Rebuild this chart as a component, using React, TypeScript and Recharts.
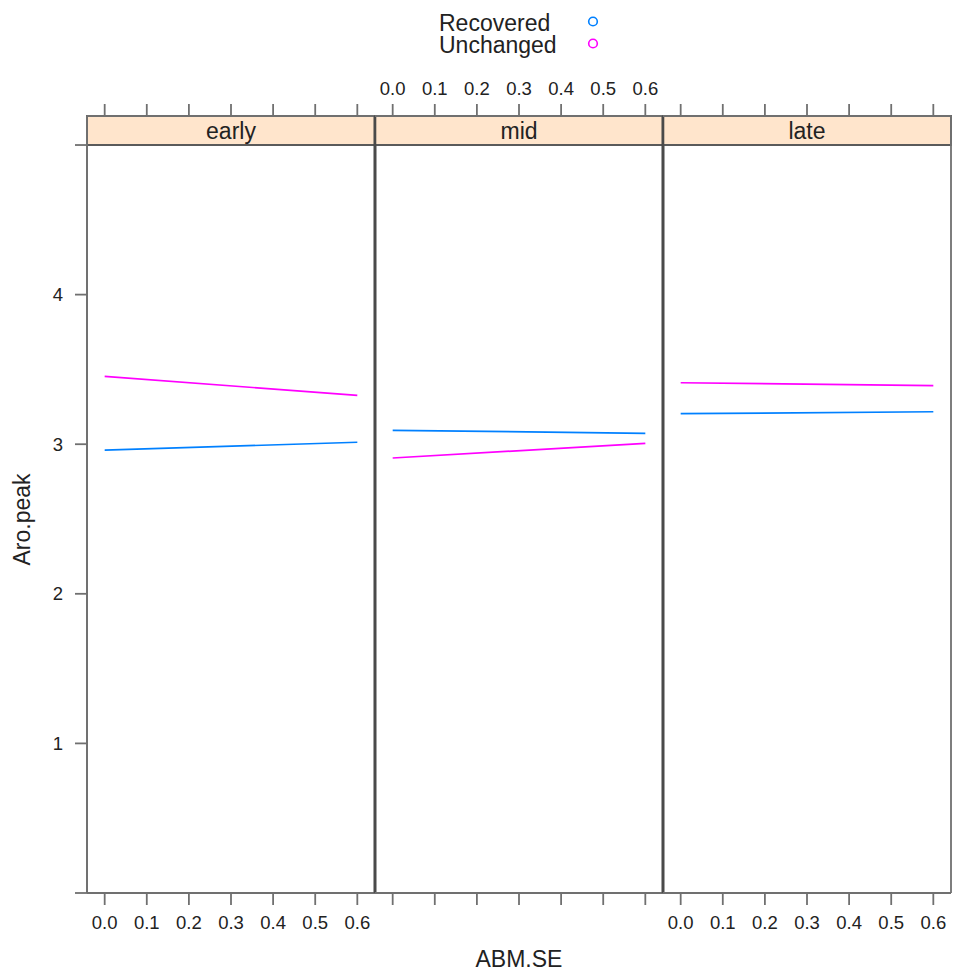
import React from 'react';
import {
  LineChart,
  Line,
  XAxis,
  YAxis,
  ReferenceArea,
  ReferenceLine,
} from 'recharts';

// ABM.SE values at the two ends of each fitted line
const abmSE = [0.0, 0.6];
// Panel (strip) names
const periods = ['early', 'mid', 'late'];
// Fitted Aro.peak per period, at abmSE[0] and abmSE[1]
const recovered = [
  [2.96, 3.013],
  [3.093, 3.073],
  [3.204, 3.217],
];
const unchanged = [
  [3.453, 3.327],
  [2.908, 3.006],
  [3.411, 3.391],
];
// Axis ticks
const xTicks = [0, 0.1, 0.2, 0.3, 0.4, 0.5, 0.6];
const yTicks = [0, 1, 2, 3, 4, 5];
const yLabelled = [1, 2, 3, 4];
const groups = ['Recovered', 'Unchanged'];
const groupColors = ['#0080ff', '#ff00ff'];

const W = 954;
const H = 973;
const FONT = '"Liberation Sans", Arial, Helvetica, sans-serif';
const TEXT = '#222';
const FRAME = '#707070';
const X_DOMAIN: [number, number] = [-0.042, 0.642];
// Top of the y domain leaves room for the strip between 5.0 and the top axis
const Y_TOP = 5.194;
const PANEL_EDGES = [87, 375, 663, 951];
const PLOT_TOP = 116;
const PLOT_BOTTOM = 893;
const TITLE_SIZE = 23;

const fmtX = (v: number) => v.toFixed(1);
const blank = () => '';

type PanelProps = {
  index: number;
  showY: boolean;
  bottomLabels: boolean;
  topLabels: boolean;
};

function Panel({ index, showY, bottomLabels, topLabels }: PanelProps) {
  const left = PANEL_EDGES[index];
  const right = PANEL_EDGES[index + 1];
  const data = abmSE.map((x, i) => ({
    x,
    rec: recovered[index][i],
    unc: unchanged[index][i],
  }));
  const yAxisWidth = 60;
  const xAxisHeight = 30;
  const margin = {
    left: showY ? left - yAxisWidth : left,
    right: W - right,
    top: PLOT_TOP - xAxisHeight,
    bottom: H - PLOT_BOTTOM - xAxisHeight,
  };
  const tickStyle = { fontSize: 18.5, fill: TEXT, fontFamily: FONT };
  const axisLine = { stroke: FRAME, strokeWidth: 1.8 };
  return (
    <div style={{ position: 'absolute', left: 0, top: 0 }}>
      <LineChart width={W} height={H} data={data} margin={margin}>
        <XAxis
          xAxisId="bottom"
          dataKey="x"
          type="number"
          orientation="bottom"
          domain={X_DOMAIN}
          allowDataOverflow
          ticks={xTicks}
          interval={0}
          height={xAxisHeight}
          tickSize={12}
          tickMargin={11}
          tickFormatter={bottomLabels ? fmtX : blank}
          tick={tickStyle}
          axisLine={axisLine}
          tickLine={axisLine}
        />
        <XAxis
          xAxisId="top"
          dataKey="x"
          type="number"
          orientation="top"
          domain={X_DOMAIN}
          allowDataOverflow
          ticks={xTicks}
          interval={0}
          height={xAxisHeight}
          tickSize={12}
          tickMargin={9}
          tickFormatter={topLabels ? fmtX : blank}
          tick={tickStyle}
          axisLine={axisLine}
          tickLine={axisLine}
        />
        <YAxis
          yAxisId="y"
          type="number"
          domain={[0, Y_TOP]}
          allowDataOverflow
          ticks={yTicks}
          interval={0}
          width={yAxisWidth}
          hide={!showY}
          tickSize={12}
          tickMargin={12}
          tickFormatter={(v: number) => (yLabelled.includes(v) ? String(v) : '')}
          tick={tickStyle}
          axisLine={axisLine}
          tickLine={axisLine}
        />
        <ReferenceArea
          xAxisId="bottom"
          yAxisId="y"
          x1={X_DOMAIN[0]}
          x2={X_DOMAIN[1]}
          y1={5}
          y2={Y_TOP}
          fill="#ffe5cc"
          fillOpacity={1}
          stroke="#5a5a5a"
          strokeWidth={1.8}
          ifOverflow="visible"
          label={{
            value: periods[index],
            position: 'center',
            fill: TEXT,
            fontSize: TITLE_SIZE,
            fontFamily: FONT,
          }}
        />
        <ReferenceLine
          xAxisId="bottom"
          yAxisId="y"
          x={X_DOMAIN[0]}
          stroke={index === 0 ? FRAME : '#4a4a4a'}
          strokeWidth={index === 0 ? 1.8 : 2.6}
          ifOverflow="visible"
        />
        <ReferenceLine
          xAxisId="bottom"
          yAxisId="y"
          x={X_DOMAIN[1]}
          stroke={index === 2 ? FRAME : '#4a4a4a'}
          strokeWidth={index === 2 ? 1.8 : 2.6}
          ifOverflow="visible"
        />
        <Line
          xAxisId="bottom"
          yAxisId="y"
          dataKey="rec"
          stroke={groupColors[0]}
          strokeWidth={1.7}
          dot={false}
          isAnimationActive={false}
        />
        <Line
          xAxisId="bottom"
          yAxisId="y"
          dataKey="unc"
          stroke={groupColors[1]}
          strokeWidth={1.7}
          dot={false}
          isAnimationActive={false}
        />
      </LineChart>
    </div>
  );
}

export default function App() {
  return (
    <div
      style={{
        position: 'absolute',
        left: 0,
        top: 0,
        width: W,
        height: H,
        background: '#fff',
        fontFamily: FONT,
      }}
    >
      <Panel index={0} showY bottomLabels topLabels={false} />
      <Panel index={1} showY={false} bottomLabels={false} topLabels />
      <Panel index={2} showY={false} bottomLabels topLabels={false} />
      <svg
        width={W}
        height={H}
        style={{ position: 'absolute', left: 0, top: 0, pointerEvents: 'none' }}
      >
        {groups.map((g, i) => (
          <g key={g}>
            <text x={439} y={30.5 + i * 22.5} fontSize={TITLE_SIZE} fill={TEXT} fontFamily={FONT}>
              {g}
            </text>
            <circle
              cx={593}
              cy={21.5 + i * 22}
              r={4.3}
              fill="none"
              stroke={groupColors[i]}
              strokeWidth={1.6}
            />
          </g>
        ))}
        <text x={519} y={967} textAnchor="middle" fontSize={TITLE_SIZE} fill={TEXT} fontFamily={FONT}>
          ABM.SE
        </text>
        <text
          x={30}
          y={519.5}
          textAnchor="middle"
          fontSize={TITLE_SIZE}
          fill={TEXT}
          fontFamily={FONT}
          transform="rotate(-90 30 519.5)"
        >
          Aro.peak
        </text>
      </svg>
    </div>
  );
}
